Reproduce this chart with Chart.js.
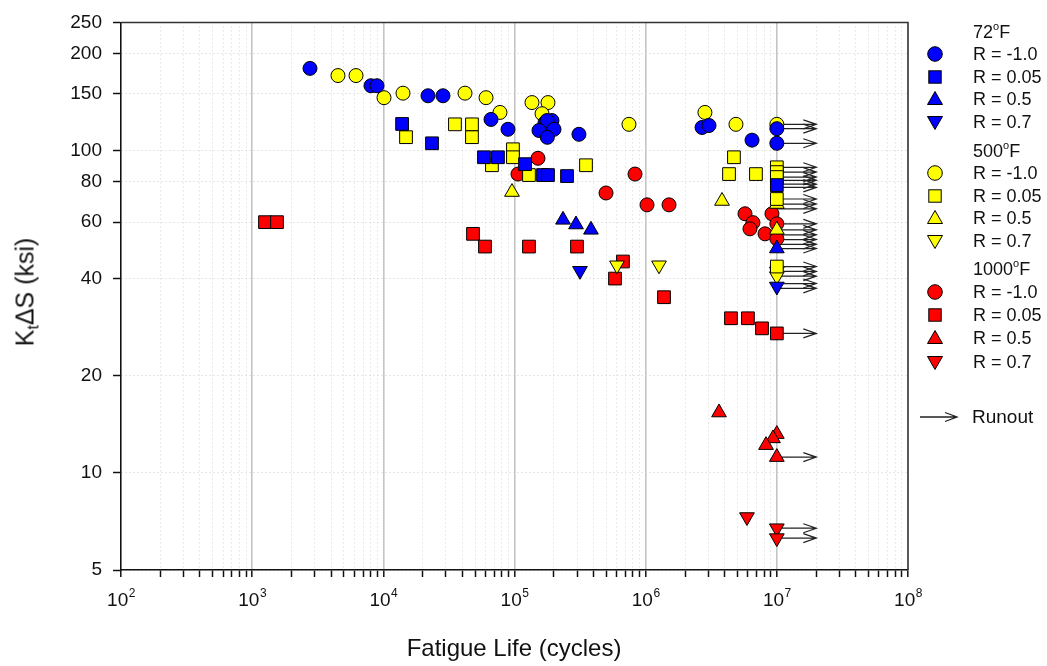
<!DOCTYPE html>
<html>
<head>
<meta charset="utf-8">
<script src="https://cdn.jsdelivr.net/npm/chart.js@4.4.0/dist/chart.umd.min.js"></script>
<style>
  body { margin: 0; background: #fff; font-family: "Liberation Sans", Arial, sans-serif; }
  #wrap { position: relative; width: 1047px; height: 666px; }
  .lg { position: absolute; font-size: 18px; line-height: 22px; height: 22px; color: #111; white-space: nowrap; }
  .lg sup { font-size: 11px; line-height: 0; vertical-align: baseline; position: relative; top: -8px; }
  .mk { position: absolute; }
  #ytitle { position: absolute; left: 25px; top: 292px; transform: translate(-50%, -50%) rotate(-90deg);
            font-size: 25px; white-space: nowrap; color: #111; }
  #ytitle sub { font-size: 16px; line-height: 0; vertical-align: baseline; position: relative; top: 5px; }
  #xtitle { position: absolute; left: 514px; top: 648px; transform: translate(-50%, -50%);
            font-size: 24px; white-space: nowrap; color: #111; }
</style>
</head>
<body>
<div id="wrap">
  <canvas id="myChart" width="1047" height="666"></canvas>
  <div id="ytitle">K<sub>t</sub>&Delta;S (ksi)</div>
  <div id="xtitle">Fatigue Life (cycles)</div>
  <div id="legend"></div>
</div>
<script>
// datos: [ciclos, KtΔS]
const blueRm1 = [[2760,180],[8050,159],[8950,159],[21900,148],[28500,148],[66200,125],[89200,116.5],
  [170800,122],[193000,124],[177000,124],[153700,115.5],[200000,116.5],[178000,110],[310000,112.4],
  [2690000,118],[3040000,119.7],[6470000,107.8],[1e7,117],[1e7,105.4]];
const blueR005 = [[13900,121],[23500,105.4],[58500,95.4],[74800,95.4],[120300,90.8],[165000,84],
  [180000,84],[251400,83.4],[1e7,78.2]];
const blueR05 = [[234400,61],[294400,59],[382900,56.8],[1e7,49.7]];
const blueR07 = [[315600,42.4],[1e7,37.9]];

const yelRm1 = [[4510,171],[6190,171],[10120,146],[14120,150.8],[41950,150.8],[60680,146],[77500,131.4],
  [135900,141],[180000,141],[162100,130.2],[746000,120.7],[2830000,131.4],[4880000,120.7],[1e7,120.7]];
const yelR005 = [[14890,110.1],[35160,120.7],[47400,120.7],[47400,110.1],[67300,90.1],[97300,101],
  [97300,95.4],[128900,84],[350800,90.1],[4320000,84.6],[4710000,95.4],[6930000,84.6],
  [1e7,88.8],[1e7,85.8],[1e7,82.8],[1e7,70.8],[1e7,43.7]];
const yelR05 = [[95700,74.4],[3820000,69.8],[1e7,68.3],[1e7,56.8]];
const yelR07 = [[604300,44.1],[1264000,44.1],[1e7,42.2],[1e7,40.8]];

const redRm1 = [[106300,84.6],[151000,94.7],[498600,73.9],[829400,84.6],[1024000,67.9],[1507000,67.9],
  [5720000,63.7],[6580000,59.8],[6240000,57.2],[8130000,55.2],[9180000,63.7],[1e7,59.3],[1e7,53.3]];
const redR005 = [[1253,60],[1546,60],[48270,55.2],[59560,50.4],[128900,50.4],[299500,50.4],[583700,40.1],
  [671000,45.3],[1380000,35.1],[4470000,30.2],[6020000,30.2],[7710000,28.1],[1e7,27.1]];
const redR05 = [[3625000,15.4],[1e7,13.2],[9350000,12.8],[8270000,12.2],[1e7,11.2]];
const redR07 = [[5920000,7.3],[1e7,6.74],[1e7,6.28]];

// runouts (flechas desde 1e7 ciclos)
const runoutCycles = 1e7;
const runoutLevels = [120.7,117,105.4,88.8,85.8,82.8,80.9,78.7,76.9,70.8,68.3,66,59.3,56.8,54.8,53,51.2,49.7,
  43.7,42.2,40.8,38.7,37.4,27.1,11.2,6.74,6.28];

const yTicks = [5,10,20,40,60,80,100,150,200,250];
const xExponents = [2,3,4,5,6,7,8];

const BLUE = '#0000ff', YELLOW = '#ffff00', RED = '#ff0000';

function serie(label, pts, color, shape) {
  const s = {
    circle: { pointStyle: 'circle', rotation: 0, radius: 7 },
    square: { pointStyle: 'rect', rotation: 0, radius: 9 },
    up: { pointStyle: 'triangle', rotation: 0, radius: 8.5 },
    down: { pointStyle: 'triangle', rotation: 180, radius: 8.5 }
  }[shape];
  return {
    label: label,
    data: pts.map(p => ({ x: p[0], y: p[1] })),
    pointStyle: s.pointStyle,
    rotation: s.rotation,
    pointRadius: s.radius,
    pointHoverRadius: s.radius,
    backgroundColor: color,
    borderColor: '#000',
    borderWidth: 1,
    showLine: false
  };
}

const marcoPlugin = {
  id: 'marco',
  beforeDatasetsDraw(chart) {
    const { ctx, scales: { x, y } } = chart;
    ctx.save();
    ctx.strokeStyle = '#222';
    ctx.lineWidth = 1.2;
    const x1 = x.getPixelForValue(runoutCycles);
    const x2 = x.getPixelForValue(runoutCycles * 2);
    runoutLevels.forEach(v => {
      const py = y.getPixelForValue(v);
      ctx.beginPath();
      ctx.moveTo(x1, py);
      ctx.lineTo(x2, py);
      ctx.moveTo(x2 - 13, py - 4.5);
      ctx.lineTo(x2, py);
      ctx.lineTo(x2 - 13, py + 4.5);
      ctx.stroke();
    });
    ctx.restore();
  },
  afterDraw(chart) {
    const { ctx, chartArea: a, scales: { x } } = chart;
    ctx.save();
    // borde superior y derecho
    ctx.strokeStyle = '#333';
    ctx.lineWidth = 1.5;
    ctx.beginPath();
    ctx.moveTo(a.left, a.top);
    ctx.lineTo(a.right, a.top);
    ctx.lineTo(a.right, a.bottom);
    ctx.stroke();
    // etiquetas 10^n
    ctx.fillStyle = '#111';
    ctx.textBaseline = 'middle';
    xExponents.forEach(e => {
      const px = x.getPixelForValue(Math.pow(10, e));
      ctx.font = '19px "Liberation Sans", Arial, sans-serif';
      const w1 = ctx.measureText('10').width;
      ctx.font = '12px "Liberation Sans", Arial, sans-serif';
      const w2 = ctx.measureText(String(e)).width;
      const left = px - (w1 + w2) / 2;
      ctx.font = '19px "Liberation Sans", Arial, sans-serif';
      ctx.textAlign = 'left';
      ctx.fillText('10', left, a.bottom + 31);
      ctx.font = '12px "Liberation Sans", Arial, sans-serif';
      ctx.fillText(String(e), left + w1 + 0.5, a.bottom + 24);
    });
    ctx.restore();
  }
};

const xGridTicks = [];
for (let e = 2; e < 8; e++) {
  for (let m = 1; m <= 9; m++) xGridTicks.push(m * Math.pow(10, e));
}
xGridTicks.push(1e8);
const isMajor = v => Math.abs(Math.log10(v) - Math.round(Math.log10(v))) < 1e-9;

const ctx = document.getElementById('myChart').getContext('2d');
const chart = new Chart(ctx, {
  type: 'scatter',
  data: {
    datasets: [
      serie('72F R=-1.0', blueRm1, BLUE, 'circle'),
      serie('72F R=0.05', blueR005, BLUE, 'square'),
      serie('72F R=0.5', blueR05, BLUE, 'up'),
      serie('72F R=0.7', blueR07, BLUE, 'down'),
      serie('500F R=-1.0', yelRm1, YELLOW, 'circle'),
      serie('500F R=0.05', yelR005, YELLOW, 'square'),
      serie('500F R=0.5', yelR05, YELLOW, 'up'),
      serie('500F R=0.7', yelR07, YELLOW, 'down'),
      serie('1000F R=-1.0', redRm1, RED, 'circle'),
      serie('1000F R=0.05', redR005, RED, 'square'),
      serie('1000F R=0.5', redR05, RED, 'up'),
      serie('1000F R=0.7', redR07, RED, 'down')
    ]
  },
  options: {
    responsive: false,
    animation: false,
    layout: { padding: { left: 0, top: 19, right: 139, bottom: 0 } },
    plugins: { legend: { display: false }, tooltip: { enabled: false } },
    scales: {
      x: {
        type: 'logarithmic',
        min: 100,
        max: 1e8,
        afterBuildTicks: s => { s.ticks = xGridTicks.map(v => ({ value: v })); },
        afterFit: s => { s.height = 96; },
        ticks: { display: false },
        grid: {
          color: c => (c.tick && isMajor(c.tick.value)) ? '#c4c4c4' : '#d6d6d6',
          lineWidth: c => (c.tick && isMajor(c.tick.value)) ? 1.6 : 1,
          tickColor: '#111',
          tickLength: 7,
          tickWidth: 1.5
        },
        border: {
          color: '#111',
          width: 1.5,
          dash: c => (c.tick && !isMajor(c.tick.value)) ? [1, 3] : []
        }
      },
      y: {
        type: 'logarithmic',
        min: 5,
        max: 250,
        afterBuildTicks: s => { s.ticks = yTicks.map(v => ({ value: v })); },
        afterFit: s => { s.width = 121; },
        ticks: {
          autoSkip: false,
          padding: 11,
          color: '#111',
          font: { family: '"Liberation Sans", Arial, sans-serif', size: 19 },
          callback: v => String(v)
        },
        grid: {
          color: '#cfcfcf',
          lineWidth: 1,
          tickColor: '#111',
          tickLength: 8,
          tickWidth: 1.5
        },
        border: { color: '#111', width: 1.5, dash: c => c.tick ? [1, 3] : [] }
      }
    }
  },
  plugins: [marcoPlugin]
});

// leyenda
const legendItems = [
  { head: '72<sup>o</sup>F', y: 32 },
  { color: BLUE, shape: 'circle', text: 'R = -1.0', y: 54 },
  { color: BLUE, shape: 'square', text: 'R = 0.05', y: 77 },
  { color: BLUE, shape: 'up', text: 'R = 0.5', y: 99 },
  { color: BLUE, shape: 'down', text: 'R = 0.7', y: 122 },
  { head: '500<sup>o</sup>F', y: 151 },
  { color: YELLOW, shape: 'circle', text: 'R = -1.0', y: 173 },
  { color: YELLOW, shape: 'square', text: 'R = 0.05', y: 196 },
  { color: YELLOW, shape: 'up', text: 'R = 0.5', y: 218 },
  { color: YELLOW, shape: 'down', text: 'R = 0.7', y: 241 },
  { head: '1000<sup>o</sup>F', y: 269 },
  { color: RED, shape: 'circle', text: 'R = -1.0', y: 292 },
  { color: RED, shape: 'square', text: 'R = 0.05', y: 315 },
  { color: RED, shape: 'up', text: 'R = 0.5', y: 338 },
  { color: RED, shape: 'down', text: 'R = 0.7', y: 362 }
];

function markerSvg(shape, color) {
  let body;
  if (shape === 'circle') body = `<circle cx="9" cy="9" r="7.3" fill="${color}" stroke="#000" stroke-width="1"/>`;
  else if (shape === 'square') body = `<rect x="2.8" y="2.8" width="12.4" height="12.4" fill="${color}" stroke="#000" stroke-width="1"/>`;
  else if (shape === 'up') body = `<polygon points="9,1.5 16.5,14.5 1.5,14.5" fill="${color}" stroke="#000" stroke-width="1"/>`;
  else body = `<polygon points="1.5,3.5 16.5,3.5 9,16.5" fill="${color}" stroke="#000" stroke-width="1"/>`;
  return `<svg width="18" height="18" viewBox="0 0 18 18">${body}</svg>`;
}

const legend = document.getElementById('legend');
let html = '';
legendItems.forEach(it => {
  if (it.head) {
    html += `<div class="lg" style="left:973px;top:${it.y - 11}px">${it.head}</div>`;
  } else {
    html += `<div class="mk" style="left:926px;top:${it.y - 9}px">${markerSvg(it.shape, it.color)}</div>`;
    html += `<div class="lg" style="left:973px;top:${it.y - 11}px">${it.text}</div>`;
  }
});
html += `<div class="mk" style="left:918px;top:409px"><svg width="42" height="16" viewBox="0 0 42 16">
  <path d="M2 8 H39 M27 3.5 L39 8 L27 12.5" fill="none" stroke="#222" stroke-width="1.3"/></svg></div>`;
html += `<div class="lg" style="left:972px;top:406px;font-size:19px">Runout</div>`;
legend.innerHTML = html;
</script>
</body>
</html>
